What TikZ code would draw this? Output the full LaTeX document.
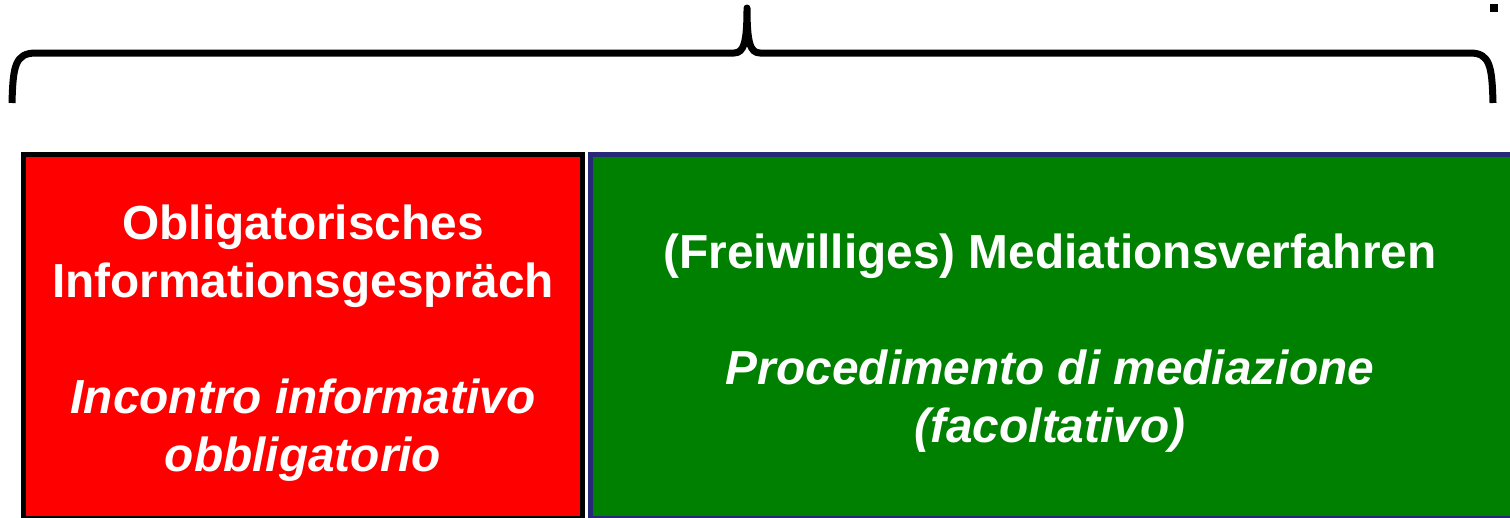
\documentclass[tikz,border=0pt]{standalone}
\usepackage{fontspec}
\setmainfont{Liberation Sans}
\definecolor{boxred}{RGB}{255,0,0}
\definecolor{boxgreen}{RGB}{0,128,0}
\definecolor{boxnavy}{RGB}{40,40,120}
\begin{document}
\begin{tikzpicture}[x=1pt,y=-1pt,
  boxtext/.style={text=white,align=center,font=\fontsize{47.8}{58}\selectfont\bfseries,inner sep=0pt},
  bracestyle/.style={line width=7pt,line join=round}]
\useasboundingbox (0,0) rectangle (1510,517);
\clip (0,0) rectangle (1510,517);
% boxes
\draw[fill=boxred,draw=black,line width=5pt] (23.5,154.5) rectangle (582.5,518);
\draw[fill=boxgreen,draw=boxnavy,line width=5pt] (590,154.5) rectangle (1512,518);
\node[boxtext] (red) at (303,343) {Obligatorisches\\Informationsgespräch\\[58pt]\itshape Incontro informativo\\\itshape obbligatorio};
\node[boxtext] (green) at (1050,343) {(Freiwilliges) Mediationsverfahren\\[58pt]\itshape Procedimento di mediazione\\\itshape (facoltativo)};
% brace
\draw[bracestyle] (12,103) .. controls (13,66) and (15,53) .. (36,53)
  -- (734,53) .. controls (744,53) and (747,42) .. (747,8)
  .. controls (747,42) and (750,53) .. (760,53)
  -- (1470,53) .. controls (1490,53) and (1492,66) .. (1493,103);
\fill (1490,4) rectangle (1498,12);
\end{tikzpicture}
\end{document}
